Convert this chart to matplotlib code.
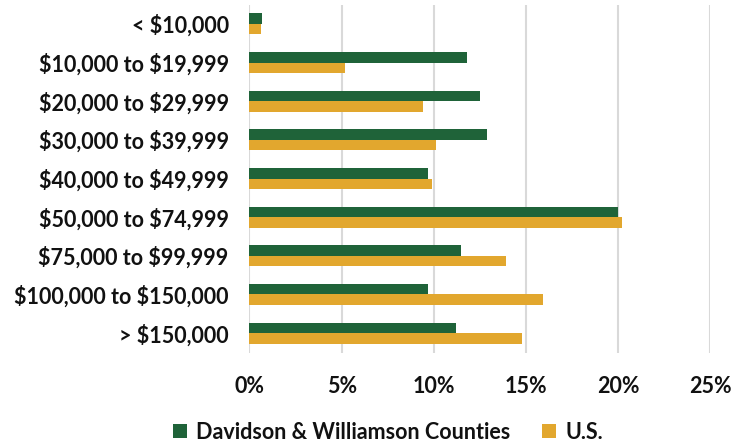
import matplotlib
matplotlib.use("Agg")
import matplotlib.pyplot as plt
import numpy as np
from matplotlib.ticker import FuncFormatter

categories = ["< $10,000", "$10,000 to $19,999", "$20,000 to $29,999", "$30,000 to $39,999",
              "$40,000 to $49,999", "$50,000 to $74,999", "$75,000 to $99,999",
              "$100,000 to $150,000", "> $150,000"]
davidson = [0.7, 11.8, 12.5, 12.9, 9.7, 20.0, 11.5, 9.7, 11.2]
us = [0.6, 5.2, 9.4, 10.1, 9.9, 20.2, 13.9, 15.9, 14.8]
xticks = [0, 5, 10, 15, 20, 25]

green = "#1F6339"
orange = "#E2A72E"

plt.rcParams['font.family'] = ['Lato', 'DejaVu Sans']
plt.rcParams['text.parse_math'] = False
fig = plt.figure(figsize=(7.51, 4.44), dpi=100)
ax = fig.add_axes([249.5/751, 1-352.5/444, (710.3-249.5)/751, (352.5-4.5)/444])

y = np.arange(len(categories))
h = 0.27
ax.barh(y - h/2, davidson, height=h, color=green, label="Davidson & Williamson Counties", zorder=3)
ax.barh(y + h/2, us, height=h, color=orange, label="U.S.", zorder=3)

fs = 15.5
ax.set_ylim(len(categories) - 0.5, -0.5)
ax.set_xlim(0, 25)
ax.set_yticks(y)
ax.set_yticklabels(categories, fontsize=fs, fontweight='bold', color='#111111')
ax.set_xticks(xticks)
ax.xaxis.set_major_formatter(FuncFormatter(lambda v, p: f"{v:.0f}%"))
for lbl in ax.get_xticklabels():
    lbl.set_fontsize(fs)
    lbl.set_fontweight('bold')
    lbl.set_color('#111111')
ax.tick_params(axis='both', length=0)
ax.tick_params(axis='x', pad=17)
ax.tick_params(axis='y', pad=15)
ax.grid(axis='x', color='#D9D9D9', linewidth=1.5, zorder=0)
for s in ax.spines.values():
    s.set_visible(False)

leg = fig.legend(loc='center', bbox_to_anchor=(388/751, 1-432/444), ncol=2, frameon=False,
                 prop={'size': fs, 'weight': 'bold'}, handlelength=0.65, handleheight=0.65,
                 columnspacing=1.5, handletextpad=0.4)
for t in leg.get_texts():
    t.set_color('#111111')

fig.savefig("out.png", dpi=100)
